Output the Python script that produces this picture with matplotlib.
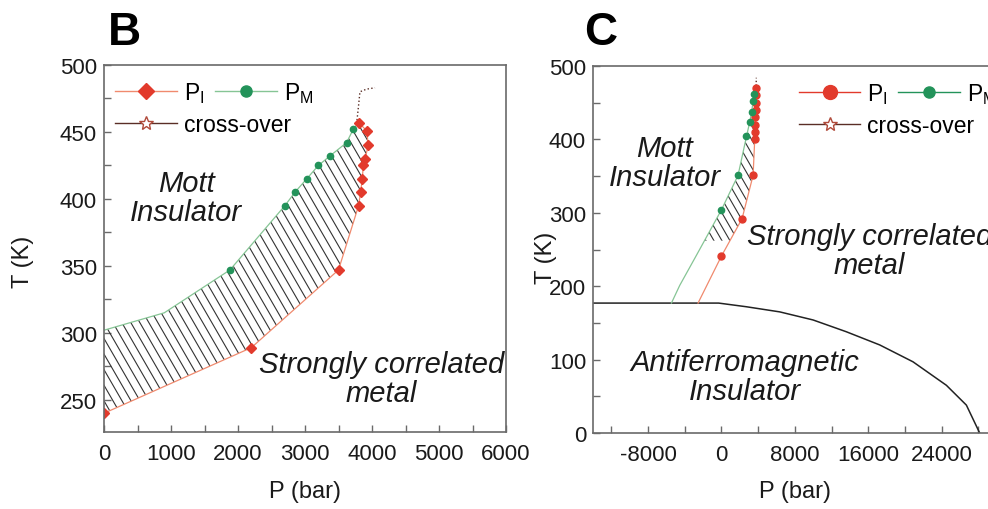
import numpy as np
import matplotlib
matplotlib.use('Agg')
import matplotlib.pyplot as plt
from matplotlib.lines import Line2D
from matplotlib.ticker import MultipleLocator
from matplotlib.collections import LineCollection
from matplotlib.path import Path
from matplotlib.transforms import IdentityTransform

plt.rcParams['font.family'] = ['Liberation Sans', 'DejaVu Sans']
plt.rcParams['mathtext.fontset'] = 'custom'
plt.rcParams['mathtext.rm'] = 'Liberation Sans'
plt.rcParams['mathtext.it'] = 'Liberation Sans:italic'
plt.rcParams['axes.unicode_minus'] = False

# ---------------- Panel B data ----------------
b_pi_P = [0, 2200, 3500, 3800, 3830, 3855, 3870, 3895, 3945, 3920, 3800]
b_pi_T = [240, 289, 347, 395, 405, 415, 425, 430, 440, 451, 457]
b_pm_P = [1880, 2700, 2850, 3025, 3200, 3370, 3620, 3720]
b_pm_T = [347, 395, 405, 415, 425, 432, 442, 452]
b_pm_line_P = [0, 900, 1880, 2700, 2850, 3025, 3200, 3370, 3620, 3720, 3800]
b_pm_line_T = [302, 315, 347, 395, 405, 415, 425, 432, 442, 452, 457]
b_cross_P = [3770, 3800, 3820, 3920, 4045]
b_cross_T = [456, 470, 480, 482, 483]
b_xticks = [0, 1000, 2000, 3000, 4000, 5000, 6000]
b_yticks = [250, 300, 350, 400, 450, 500]

# ---------------- Panel C data ----------------
c_pi_P = [0, 2250, 3450, 3630, 3650, 3680, 3700, 3720, 3740, 3760, 3780]
c_pi_T = [241, 292, 351, 400, 410, 420, 430, 440, 450, 460, 470]
c_pi_line_P = [-2550, 0, 2250, 3450, 3630, 3650, 3680, 3700, 3720, 3740, 3760, 3780]
c_pi_line_T = [177, 241, 292, 351, 400, 410, 420, 430, 440, 450, 460, 470]
c_pm_P = [0, 1810, 2730, 3090, 3300, 3450, 3550]
c_pm_T = [304, 351, 404, 424, 438, 452, 462]
c_pm_line_P = [-5450, -4550, -2730, 0, 1810, 2730, 3090, 3300, 3450, 3550]
c_pm_line_T = [177, 201, 242, 304, 351, 404, 424, 438, 452, 462]
c_cross_P = [3770, 3790, 3800]
c_cross_T = [468, 476, 484]
c_afm_P = [-14000, -300, 2720, 6360, 9990, 13600, 17250, 20880, 24520, 26700, 28150]
c_afm_T = [177, 177, 172, 165, 154, 138, 120, 97, 65, 38, 0]
c_xticks = [-8000, 0, 8000, 16000, 24000]
c_yticks = [0, 100, 200, 300, 400, 500]

RED = '#e23a2c'
RED_LINE = '#f08a6e'
GREEN = '#23935a'
GREEN_LINE = '#86c595'
CROSS = '#5a2e26'
HATCH = '#333333'
SPINE = '#6a6a6a'
TXT = '#1a1a1a'

W, H = 988, 510
fig = plt.figure(figsize=(W / 100, H / 100), dpi=100)


def fx(px):
    return px / W


def fy(py):
    return 1 - py / H


axB = fig.add_axes([fx(104), fy(433), fx(506) - fx(104), fy(66) - fy(433)])
axC = fig.add_axes([fx(593), fy(434), fx(1015) - fx(593), fy(67) - fy(434)])

for ax in (axB, axC):
    for s in ax.spines.values():
        s.set_color(SPINE)
        s.set_linewidth(1.2)
    ax.tick_params(which='both', direction='in', length=5, width=1, color=SPINE,
                   labelsize=16, labelcolor=TXT)
    ax.tick_params(axis='x', pad=8)
    ax.tick_params(axis='y', pad=5)


def hatch_path(ax, path, spacing=9.0, angle=60, color=HATCH, lw=0.8):
    """Draw steep '\\' hatch lines clipped to a data-space path."""
    bb = ax.bbox
    th = np.deg2rad(angle)
    hgt = bb.y1 - bb.y0
    dx = hgt / np.tan(th)
    segs = []
    for x0 in np.arange(bb.x0 - dx - spacing, bb.x1 + spacing, spacing):
        segs.append([(x0, bb.y1), (x0 + dx, bb.y0)])
    lc = LineCollection(segs, colors=color, linewidths=lw, transform=IdentityTransform())
    ax.add_collection(lc, autolim=False)
    lc.set_clip_path(path, ax.transData)


# ---------- Panel B ----------
axB.set_xlim(0, 6000)
axB.set_ylim(226, 500)
polyB = Path(np.column_stack([np.r_[b_pm_line_P, b_pi_P[::-1]], np.r_[b_pm_line_T, b_pi_T[::-1]]]))
hatch_path(axB, polyB)
axB.plot(b_pi_P, b_pi_T, color=RED_LINE, lw=0.9)
axB.plot(b_pm_line_P, b_pm_line_T, color=GREEN_LINE, lw=0.9)
axB.plot(b_cross_P, b_cross_T, color=CROSS, lw=1.0, ls=':')
axB.plot(b_pi_P, b_pi_T, ls='none', marker='D', ms=5.5, color=RED, mec=RED)
axB.plot(b_pm_P, b_pm_T, ls='none', marker='o', ms=4.5, color=GREEN, mec=GREEN)

axB.set_xticks(b_xticks)
axB.set_yticks(b_yticks)
axB.xaxis.set_minor_locator(MultipleLocator(500))
axB.yaxis.set_minor_locator(MultipleLocator(25))

tkw = dict(fontsize=21, style='italic', color=TXT, ha='center', va='center', linespacing=1.05)
axB.text(1224, 401, 'Mott\nInsulator', **tkw)
axB.text(4142, 266, 'Strongly correlated\nmetal', **tkw)

lab_pi = r'P$_\mathregular{I}$'
lab_pm = r'P$_\mathregular{M}$'
lkw = dict(loc='upper left', borderaxespad=0.1, frameon=False, fontsize=16.5,
           handlelength=2.7, handletextpad=0.3, columnspacing=0.45)


def add_legends(ax, h_pi, h_pm, h_cr, x0):
    l1 = ax.legend([h_pi, h_pm], [lab_pi, lab_pm], ncol=2, bbox_to_anchor=(x0, 1 - 4 / 367), **lkw)
    ax.add_artist(l1)
    ax.legend([h_cr], ['cross-over'], bbox_to_anchor=(x0, 1 - 37 / 367), **lkw)


add_legends(axB,
            Line2D([], [], color=RED_LINE, lw=1, marker='D', ms=8, mfc=RED, mec=RED),
            Line2D([], [], color=GREEN_LINE, lw=1, marker='o', ms=8, mfc=GREEN, mec=GREEN),
            Line2D([], [], color=CROSS, lw=1, marker='*', ms=10, mfc='white', mec='#b04a3a'),
            0)

# ---------- Panel C ----------
axC.set_xlim(-14000, 32000)
axC.set_ylim(0, 500)
Tg = np.linspace(262, 440, 120)
left = np.interp(Tg, c_pm_line_T, c_pm_line_P)
right = np.interp(Tg, c_pi_line_T, c_pi_line_P)
polyC = Path(np.column_stack([np.r_[left, right[::-1]], np.r_[Tg, Tg[::-1]]]))
hatch_path(axC, polyC, spacing=8.0)
axC.plot(c_afm_P, c_afm_T, color='#222222', lw=1.1)
axC.plot(c_pi_line_P, c_pi_line_T, color=RED_LINE, lw=0.9)
axC.plot(c_pm_line_P, c_pm_line_T, color=GREEN_LINE, lw=0.9)
axC.plot(c_cross_P, c_cross_T, color=CROSS, lw=1.0, ls=':')
axC.plot(c_pi_P, c_pi_T, ls='none', marker='o', ms=5, color=RED, mec=RED)
axC.plot(c_pm_P, c_pm_T, ls='none', marker='o', ms=4.5, color=GREEN, mec=GREEN)

axC.set_xticks(c_xticks)
axC.set_yticks(c_yticks)
axC.xaxis.set_minor_locator(MultipleLocator(4000))
axC.yaxis.set_minor_locator(MultipleLocator(50))

axC.text(-6180, 369, 'Mott\nInsulator', **tkw)
axC.text(16160, 249, 'Strongly correlated\nmetal', **tkw)
axC.text(2540, 77, 'Antiferromagnetic\nInsulator', **tkw)

add_legends(axC,
            Line2D([], [], color=RED, lw=1, marker='o', ms=10, mfc=RED, mec=RED),
            Line2D([], [], color=GREEN, lw=1, marker='o', ms=8, mfc=GREEN, mec=GREEN),
            Line2D([], [], color=CROSS, lw=1, marker='*', ms=10, mfc='white', mec='#b04a3a'),
            0.46)

# ---------- labels ----------
fig.text(fx(108), fy(45), 'B', fontsize=33, fontweight='bold', ha='left', va='baseline', color='black')
fig.text(fx(584), fy(45), 'C', fontsize=33, fontweight='bold', ha='left', va='baseline', color='black')
fig.text(fx(23), fy(262), 'T (K)', fontsize=17, rotation=90, ha='center', va='center', color=TXT)
fig.text(fx(546), fy(258), 'T (K)', fontsize=17, rotation=90, ha='center', va='center', color=TXT)
fig.text(fx(305), fy(492), 'P (bar)', fontsize=17, ha='center', va='center', color=TXT)
fig.text(fx(795), fy(492), 'P (bar)', fontsize=17, ha='center', va='center', color=TXT)

fig.savefig('out.png', dpi=100)
